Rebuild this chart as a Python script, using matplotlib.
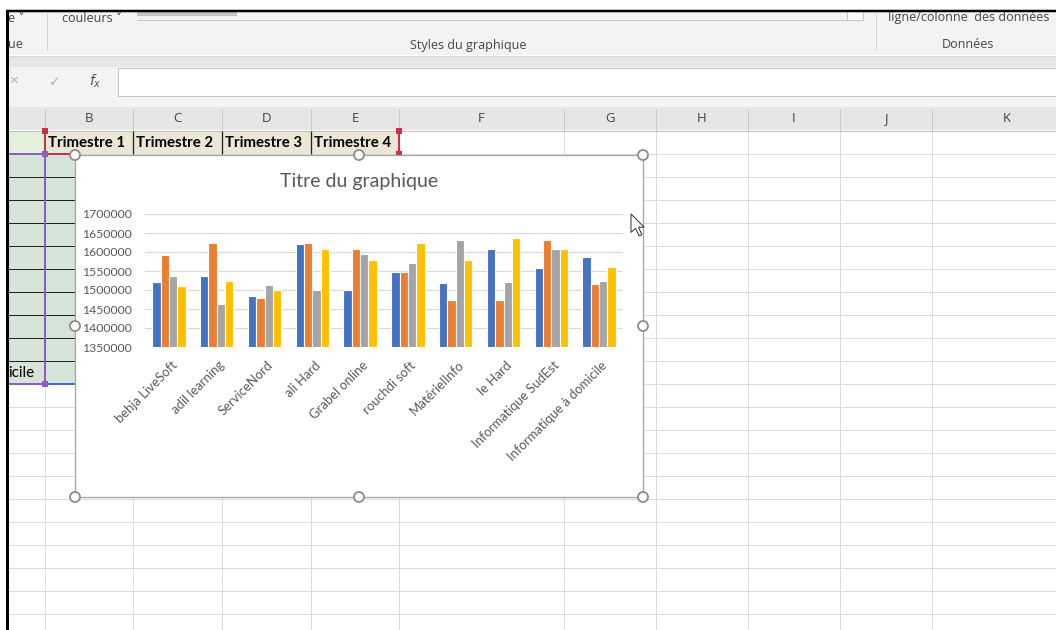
import matplotlib.pyplot as plt
from matplotlib.patches import Rectangle, Circle, Polygon
from matplotlib.transforms import ScaledTranslation

# chart data
categories = ["behja LiveSoft", "adil learning", "ServiceNord", "ali Hard", "Grabel online",
              "rouchdi soft", "MatérielInfo", "le Hard", "Informatique SudEst",
              "Informatique à domicile"]
series_names = ["Trimestre 1", "Trimestre 2", "Trimestre 3", "Trimestre 4"]
trimestre1 = [1522000, 1537000, 1485000, 1620000, 1499000, 1547000, 1519000, 1607000, 1558000, 1588000]
trimestre2 = [1593000, 1623000, 1480000, 1623000, 1607000, 1547000, 1474000, 1474000, 1631000, 1516000]
trimestre3 = [1537000, 1462000, 1513000, 1501000, 1595000, 1571000, 1631000, 1522000, 1609000, 1525000]
trimestre4 = [1510000, 1525000, 1499000, 1609000, 1580000, 1625000, 1580000, 1638000, 1607000, 1561000]
colors = ["#4472C4", "#ED7D31", "#A5A5A5", "#FFC000"]

col_letters = ["B", "C", "D", "E", "F", "G", "H", "I", "J", "K"]
col_edges = [45, 133, 222, 311, 399, 564, 656, 748, 840, 932]

W, H = 1056, 630
fig = plt.figure(figsize=(W / 100, H / 100), dpi=100)
fig.patch.set_facecolor("white")

ui_font = ["Open Sans", "DejaVu Sans"]
cell_font = ["Lato", "DejaVu Sans"]

bg = fig.add_axes([0, 0, 1, 1])
bg.set_xlim(0, W)
bg.set_ylim(H, 0)
bg.axis("off")


def px(v):
    return v * 0.72


def rect(x0, y0, x1, y1, fc, ec="none", lw=0, z=1):
    bg.add_patch(Rectangle((x0, y0), x1 - x0, y1 - y0, facecolor=fc, edgecolor=ec,
                           linewidth=px(lw), zorder=z))


def line(xs, ys, color, lw=1, z=2):
    bg.plot(xs, ys, color=color, linewidth=px(lw), zorder=z, solid_capstyle="butt")


# ribbon
rect(8, 12, W, 55, "#f3f3f3")
line([8, W], [55.5, 55.5], "#d6d6d6")
rect(8, 56, W, 67, "#e6e6e6")
rect(8, 67, W, 107, "#f3f3f3")
rect(118, 68, W + 2, 96, "white", ec="#c6c6c6", lw=1)
line([47, 47], [13, 50], "#d2d2d2")
line([876, 876], [13, 50], "#d2d2d2")
line([137, 850], [19.5, 19.5], "#c8c8c8")
rect(137, 12, 237, 16, "#c4c4c4", z=2)
rect(847, 11, 863, 20, "#fafafa", ec="#c8c8c8", lw=1, z=2)
bg.text(8, 19, "e \u02c5", fontsize=9, color="#444444", family=ui_font, va="center")
bg.text(8, 45, "ue", fontsize=9, color="#444444", family=ui_font, va="center")
bg.text(62, 19, "couleurs \u02c5", fontsize=9, color="#444444", family=ui_font, va="center")
bg.text(468, 45, "Styles du graphique", fontsize=9, color="#444444", family=ui_font,
        va="center", ha="center")
bg.text(888, 18, "ligne/colonne  des données", fontsize=9, color="#444444",
        family=ui_font, va="center")
bg.text(968, 45, "Données", fontsize=9, color="#444444", family=ui_font,
        va="center", ha="center")
bg.text(13, 81, "\u00d7", fontsize=11, color="#b0b0b0", family=ui_font, va="center", ha="center")
bg.text(55, 82, "\u2713", fontsize=10, color="#b0b0b0", family=["DejaVu Sans"], va="center",
        ha="center")
bg.text(95, 81, r"$f_x$", fontsize=10, color="#555555", va="center", ha="center")

# column headers
rect(8, 107, W, 130, "#e6e6e6")
line([8, W], [130.5, 130.5], "#bdbdbd")
for i, x in enumerate(col_edges):
    line([x, x], [109, 130], "#c8c8c8")
    right = col_edges[i + 1] if i + 1 < len(col_edges) else 1082
    bg.text((x + right) / 2, 119, col_letters[i], fontsize=9.5, color="#444444",
            family=ui_font, va="center", ha="center")

# sheet grid
for k in range(1, 22):
    line([8, W], [131 + 23 * k, 131 + 23 * k], "#dcdcdc", z=1.5)
for x in col_edges:
    line([x, x], [131, H], "#dcdcdc", z=1.5)

# row 1 headers and selected ranges
rect(8, 131, 45, 154, "#e2efda", z=1.6)
rect(45, 131, 399, 154, "#ebe6d6", z=1.6)
for x in col_edges[1:4]:
    line([x, x], [131, 154], "#222222", lw=1.3, z=3)
for i, name in enumerate(series_names):
    bg.text(col_edges[i] + 3, 143, name, fontsize=10.8, weight="bold", color="black",
            family=cell_font, va="center", zorder=4)
rect(8, 154, 75, 384, "#d5e3d8", z=1.6)
for k in range(2, 11):
    line([8, 75], [131 + 23 * k, 131 + 23 * k], "#222222", z=3)
bg.text(8, 373, "icile", fontsize=11, color="black", family=cell_font, va="center", zorder=4)
line([45, 45], [131, 154], "#c8304a", lw=2, z=5)
line([399, 399], [131, 154], "#c8304a", lw=2, z=5)
line([45, 75], [154, 154], "#c8304a", lw=2, z=5)
line([8, 45], [154, 154], "#8e5cc2", lw=2, z=5)
line([45, 45], [154, 384], "#8e5cc2", lw=2, z=5)
line([8, 45], [384, 384], "#8e5cc2", lw=2, z=5)
line([45, 75], [384, 384], "#3a6fd0", lw=2, z=5)
for (x, y, c) in [(45, 131, "#c8304a"), (399, 131, "#c8304a"), (399, 154, "#c8304a"),
                  (45, 154, "#8e5cc2"), (45, 384, "#8e5cc2")]:
    rect(x - 3, y - 3, x + 3, y + 3, c, z=6)

# chart object frame
cx0, cy0, cx1, cy1 = 75, 155, 643, 497
rect(cx0, cy0, cx1, cy1, "white", ec="#a6a6a6", lw=1.3, z=7)
for hx in (cx0, (cx0 + cx1) / 2, cx1):
    for hy in (cy0, (cy0 + cy1) / 2, cy1):
        if hx == (cx0 + cx1) / 2 and hy == (cy0 + cy1) / 2:
            continue
        bg.add_patch(Circle((hx, hy), 5, facecolor="white", edgecolor="#8c8c8c",
                            linewidth=px(1.8), zorder=9))
bg.text((cx0 + cx1) / 2, 181, "Titre du graphique", fontsize=14, color="#595959",
        family=cell_font, va="center", ha="center", zorder=8)

# mouse pointer
arrow = [(0, 0), (0, 16), (4, 12.5), (7, 19), (9.5, 18), (6.5, 11.5), (11.5, 11.5)]
bg.add_patch(Polygon([(631 + 1.15 * a, 214 + 1.15 * b) for a, b in arrow], closed=True,
                     facecolor="white", edgecolor="#333333", linewidth=px(1), zorder=10))

# plot area
ax = fig.add_axes([145 / W, 1 - 347 / H, (623 - 145) / W, (347 - 214) / H])
ax.set_facecolor("none")
ax.set_zorder(8)
series = [trimestre1, trimestre2, trimestre3, trimestre4]
bw = 0.174
for j, vals in enumerate(series):
    xs = [i + (j - 1.5) * bw for i in range(len(categories))]
    ax.bar(xs, vals, width=bw, color=colors[j], edgecolor="white", linewidth=0.8,
           label=series_names[j], zorder=3)
ax.set_xlim(-0.5, len(categories) - 0.5)
ax.set_ylim(1350000, 1700000)
ax.set_yticks(range(1350000, 1700001, 50000))
ax.yaxis.set_major_formatter(plt.FuncFormatter(lambda v, p: f"{int(v)}"))
ax.grid(axis="y", color="#d9d9d9", linewidth=px(1.2), zorder=0)
for s in ax.spines.values():
    s.set_visible(False)
ax.tick_params(axis="y", length=0, pad=px(13), labelsize=8.8, labelcolor="#595959")
ax.tick_params(axis="x", length=0, pad=px(12), labelsize=9.4, labelcolor="#595959")
for t in ax.get_yticklabels():
    t.set_family(cell_font)
ax.set_xticks(range(len(categories)))
ax.set_xticklabels(categories, rotation=45, ha="right", va="top", rotation_mode="anchor",
                   family=cell_font)
shift = ScaledTranslation(2 / 100, 0, fig.dpi_scale_trans)
for t in ax.get_xticklabels():
    t.set_transform(t.get_transform() + shift)

# window frame
line([6, W], [10.5, 10.5], "black", lw=2.5, z=20)
line([7, 7], [10, H], "black", lw=3, z=20)

fig.savefig("out.png", dpi=100, facecolor="white")
